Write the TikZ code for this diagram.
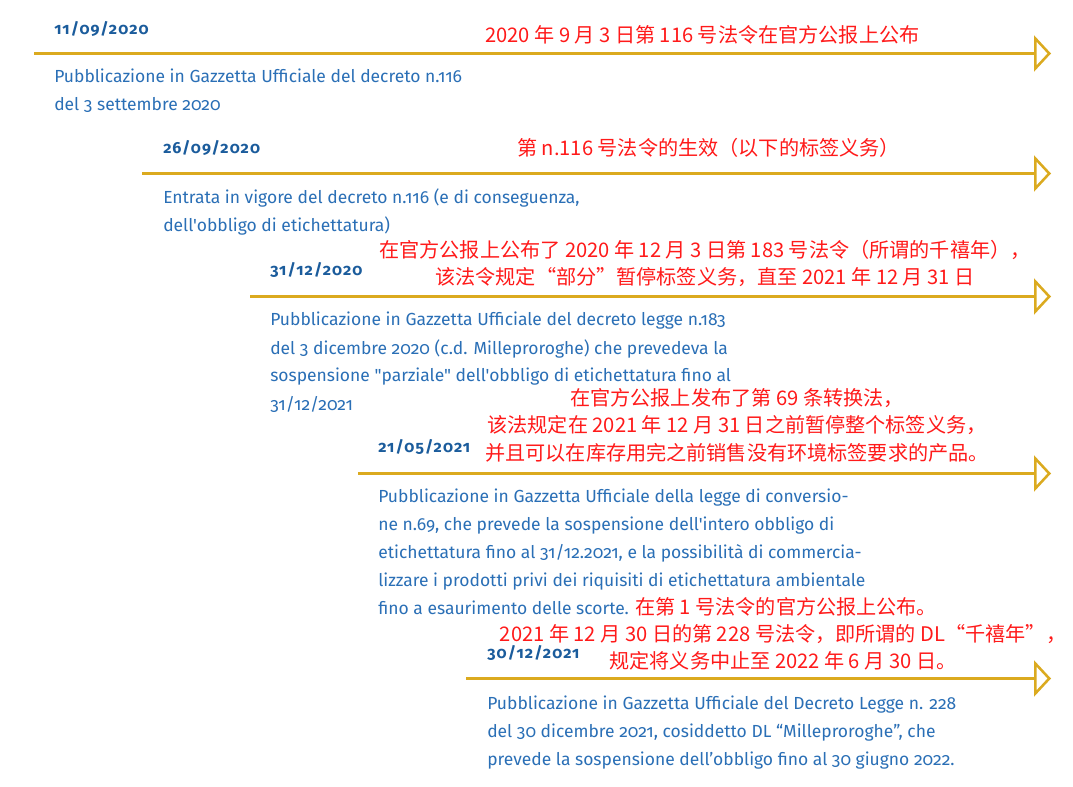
\documentclass[tikz,border=0pt]{standalone}
\usepackage{fontspec}
\usetikzlibrary{arrows.meta}
\newfontfamily\bodyfont[Numbers=OldStyle,Ligatures=TeXOff]{Fira Sans}
\newfontfamily\datefont[Numbers=OldStyle,LetterSpace=7]{Fira Sans}
\newfontfamily\cjk{Noto Sans CJK SC}
\definecolor{gold}{HTML}{DBAA1F}
\definecolor{bodyblue}{HTML}{2A6FB6}
\definecolor{dateblue}{HTML}{1B5C9C}
\definecolor{cnred}{HTML}{FF1A1A}
\newcommand\lpara[1]{\begin{tabular}[t]{@{}l@{}}#1\end{tabular}}
\newcommand\cpara[1]{\begin{tabular}[t]{@{}c@{}}#1\end{tabular}}
\begin{document}
\begin{tikzpicture}[x=0.75pt,y=-0.75pt,
  datelabel/.style={anchor=base west, inner sep=0, text=dateblue, font=\datefont\bfseries\fontsize{12}{14}\selectfont},
  bodytext/.style={anchor=base west, inner sep=0, text=bodyblue, font=\bodyfont\fontsize{13.1}{21}\selectfont},
  note/.style={anchor=base, inner sep=0, text=cnred, font=\cjk\fontsize{15.1}{20.5}\selectfont},
  timeline/.style={draw=gold, line width=1.9pt, -{Triangle[open,length=12.75pt,width=27pt]}}]
\fill[white] (0,0) rectangle (1073,787);
\useasboundingbox (0,0) rectangle (1073,787);

% timelines
\coordinate (s1) at (34,53.5);   \coordinate (e1) at (1051,53.5);
\coordinate (s2) at (142,173.5); \coordinate (e2) at (1051,173.5);
\coordinate (s3) at (250,296.5); \coordinate (e3) at (1051,296.5);
\coordinate (s4) at (358,473.5); \coordinate (e4) at (1051,473.5);
\coordinate (s5) at (466,678.5); \coordinate (e5) at (1051,678.5);
\draw[timeline] (s1) -- (e1);
\draw[timeline] (s2) -- (e2);
\draw[timeline] (s3) -- (e3);
\draw[timeline] (s4) -- (e4);
\draw[timeline] (s5) -- (e5);

% event 1
\node[datelabel] (d1) at (54,35) {11/09/2020};
\node[bodytext] (b1) at (54,83) {\lpara{Pubblicazione in Gazzetta Ufficiale del decreto n.116\\del 3 settembre 2020}};
\node[note, anchor=base west] (n1) at (485,42.5) {2020 年 9 月 3 日第 116 号法令在官方公报上公布};

% event 2
\node[datelabel] (d2) at (163,153.5) {26/09/2020};
\node[bodytext] (b2) at (163,204) {\lpara{Entrata in vigore del decreto n.116 (e di conseguenza,\\dell'obbligo di etichettatura)}};
\node[note, anchor=base west] (n2) at (517,155.5) {第 n.116 号法令的生效（以下的标签义务）};

% event 3
\node[datelabel] (d3) at (270,275.5) {31/12/2020};
\node[bodytext] (b3) at (270,326) {\lpara{Pubblicazione in Gazzetta Ufficiale del decreto legge n.183\\del 3 dicembre 2020 (c.d. Milleproroghe) che prevedeva la\\sospensione "parziale" dell'obbligo di etichettatura fino al\\31/12/2021}};
\node[note] (n3) at (705,257.5) {\cpara{在官方公报上公布了 2020 年 12 月 3 日第 183 号法令（所谓的千禧年），\\该法令规定“部分”暂停标签义务，直至 2021 年 12 月 31 日}};

% event 4
\node[datelabel] (d4) at (378,452.5) {21/05/2021};
\node[bodytext] (b4) at (378,502) {\lpara{Pubblicazione in Gazzetta Ufficiale della legge di conversio-\\ne n.69, che prevede la sospensione dell'intero obbligo di\\etichettatura fino al 31/12.2021, e la possibilità di commercia-\\lizzare i prodotti privi dei riquisiti di etichettatura ambientale\\fino a esaurimento delle scorte. {\cjk\fontsize{15.1}{21}\selectfont\color{cnred}在第 1 号法令的官方公报上公布。}}};
\node[note] (n4) at (737,405.5) {\cpara{在官方公报上发布了第 69 条转换法，\\该法规定在 2021 年 12 月 31 日之前暂停整个标签义务，\\并且可以在库存用完之前销售没有环境标签要求的产品。}};

% event 5
\node[datelabel] (d5) at (487,658.5) {30/12/2021};
\node[bodytext] (b5) at (487,709) {\lpara{Pubblicazione in Gazzetta Ufficiale del Decreto Legge n. 228\\del 30 dicembre 2021, cosiddetto DL “Milleproroghe”, che\\prevede la sospensione dell’obbligo fino al 30 giugno 2022.}};
\node[note] (n6) at (783,641.5) {\cpara{2021 年 12 月 30 日的第 228 号法令，即所谓的 DL“千禧年”，\\规定将义务中止至 2022 年 6 月 30 日。}};
\end{tikzpicture}
\end{document}
